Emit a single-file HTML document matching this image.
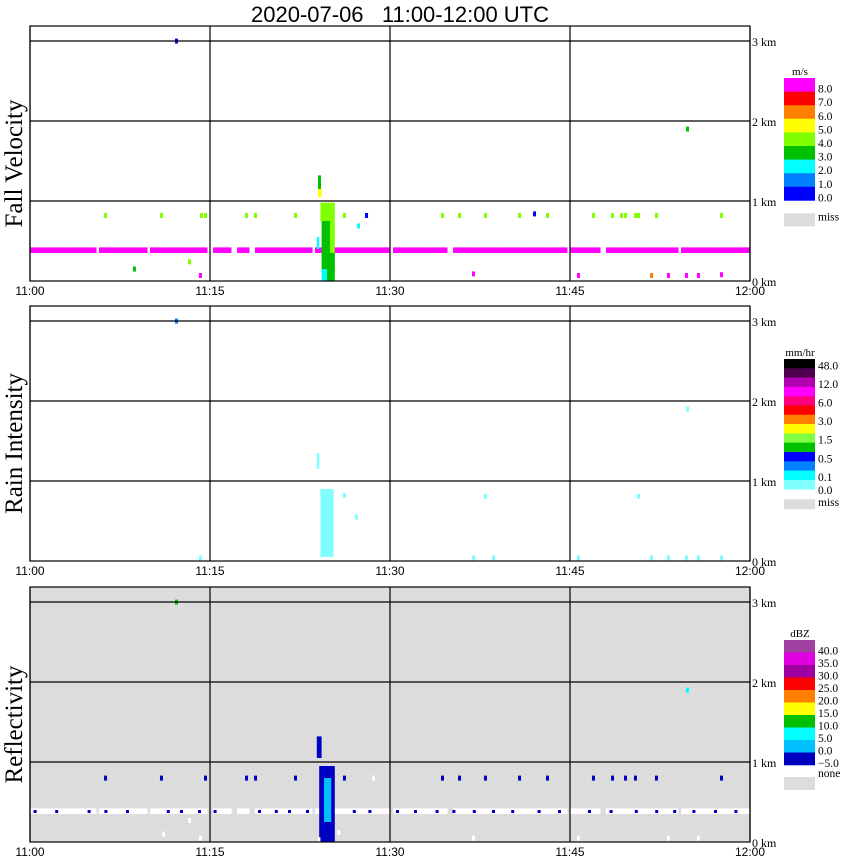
<!DOCTYPE html>
<html><head><meta charset="utf-8"><style>
body{margin:0;background:#fff;}
svg{display:block;font-family:"Liberation Sans",sans-serif;}
.serif{font-family:"Liberation Serif",serif;}
</style></head><body>
<svg id="chart" width="850" height="868" viewBox="0 0 850 868">
<text x="400" y="22" text-anchor="middle" font-size="22" style="white-space:pre">2020-07-06&#160;&#160;&#160;11:00-12:00 UTC</text>
<g id="layer"></g>
</svg>
<script>
// ---- data ----
const timeTicks = ["11:00","11:15","11:30","11:45","12:00"];
const tickMinutes = [0,15,30,45,60];
const kmTicks = [0,1,2,3];
const panelTitles = ["Fall Velocity","Rain Intensity","Reflectivity"];
// fall velocity scale (m/s)
const fvLabels = ["8.0","7.0","6.0","5.0","4.0","3.0","2.0","1.0","0.0"];
const fvColors = ["#ff00ff","#ff0000","#ff8000","#ffff00","#80ff00","#00c000","#00ffff","#0080ff","#0000ff"];
const fvThresh = [8,7,6,5,4,3,2,1,0];
// rain scale (mm/hr)
const riColors = ["#000000","#500050","#b000b0","#ff00ff","#ff0080","#ff0000","#ff8000","#ffff00","#80ff40","#00c000","#0000ff","#0080ff","#00ffff","#80ffff"];
const riThresh = [48,24,12,9,6,4,3,2,1.5,1,0.5,0.3,0.1,0];
const riLabels = [["48.0",0],["12.0",2],["6.0",4],["3.0",6],["1.5",8],["0.5",10],["0.1",12]];
// reflectivity scale (dBZ)
const dbColors = ["#a040a0","#e000e0","#a000a0","#ff0000","#ff8000","#ffff00","#00c000","#00ffff","#00c0ff","#0000c0"];
const dbThresh = [40,35,30,25,20,15,10,5,0,-5];
const dbLabels = ["40.0","35.0","30.0","25.0","20.0","15.0","10.0","5.0","0.0","\u22125.0"];
// scattered gates [minute, km, value]
const fvGates = [[6.17,0.8,4.5],[10.83,0.8,4.5],[14.17,0.8,4.5],[14.5,0.8,4.5],[17.92,0.8,4.5],[18.67,0.8,4.5],[22,0.8,4.5],[26.08,0.8,4.5],[34.25,0.8,4.5],[35.67,0.8,4.5],[37.83,0.8,4.5],[40.67,0.8,4.5],[43,0.8,4.5],[46.83,0.8,4.5],[48.42,0.8,4.5],[49.17,0.8,4.5],[49.5,0.8,4.5],[50.33,0.8,4.5],[50.58,0.8,4.5],[52.08,0.8,4.5],[57.5,0.8,4.5],[27.92,0.8,0.5],[41.92,0.82,0.5],[8.58,0.13,3.5],[13.17,0.22,4.5],[12.08,2.98,0.5],[54.67,1.88,3.5],[14.08,0.05,8.5],[36.83,0.07,8.5],[45.58,0.05,8.5],[53.08,0.05,8.5],[54.58,0.05,8.5],[55.58,0.05,8.5],[57.5,0.06,8.5],[51.67,0.05,6.5],[27.25,0.67,2.5]];
// column segments [t0, t1, h0, h1, value]
const fvCols = [[24.0,24.25,1.1,1.32,3.5],[24.0,24.3,1.05,1.15,5.5],[24.2,25.4,0.75,0.98,4.5],[24.3,25.0,0.1,0.75,3.5],[25.0,25.4,0.1,0.75,4.5],[24.6,25.4,0.0,0.35,3.5],[24.3,24.75,0.0,0.15,2.5],[23.9,24.1,0.4,0.55,2.5]];
const fvBandGaps = [5.5,9.75,14.83,16.92,18.42,23.5,30.0,34.83,44.75,47.6,54.0];
const riGates = [[12.08,2.98,0.4],[54.67,1.88,0.05],[26.08,0.8,0.05],[27.08,0.53,0.05],[37.83,0.79,0.05],[50.58,0.79,0.05],[14.08,0.02,0.05],[36.83,0.02,0.05],[38.5,0.02,0.05],[45.58,0.02,0.05],[51.67,0.02,0.05],[53.08,0.02,0.05],[54.58,0.02,0.05],[55.58,0.02,0.05],[57.5,0.02,0.05]];
const riCols = [[24.2,25.3,0.05,0.9,0.05],[23.9,24.1,1.15,1.35,0.05]];
const dbGates = [[6.17,0.78,-3],[10.83,0.78,-3],[14.5,0.78,-3],[17.92,0.78,-3],[18.67,0.78,-3],[22,0.78,-3],[26.08,0.78,-3],[34.25,0.78,-3],[35.67,0.78,-3],[37.83,0.78,-3],[40.67,0.78,-3],[43,0.78,-3],[46.83,0.78,-3],[48.42,0.78,-3],[49.5,0.78,-3],[50.33,0.78,-3],[52.08,0.78,-3],[57.5,0.78,-3],[12.08,2.98,12],[54.67,1.88,7],[28.5,0.78,-99],[13.17,0.25,-99],[11.0,0.08,-99],[14.08,0.03,-99],[36.83,0.03,-99],[45.58,0.03,-99],[53.08,0.03,-99],[55.58,0.03,-99],[25.6,0.1,-99]];
const dbCols = [[24.1,25.4,0.0,0.95,-3],[24.5,25.1,0.25,0.8,2.5],[23.9,24.3,1.05,1.32,-3],[24.0,24.2,0.0,0.06,-99]];
const dbBandDots = [0.3,2.1,4.8,6.2,8.0,11.4,12.5,14.0,15.3,19.0,20.4,21.5,23.0,26.9,28.2,30.5,32.0,33.8,35.2,36.9,38.5,40.1,42.3,44.0,46.5,48.3,50.4,52.1,53.6,55.2,57.0,58.7];

// ---- scales ----
const X0=30, X1=750, PXMIN=(X1-X0)/60, PXKM=80;
const panels=[{zero:281,bg:"#ffffff"},{zero:561,bg:"#ffffff"},{zero:842,bg:"#dcdcdc"}];
const xs=t=>X0+t*PXMIN;
const ys=(p,h)=>panels[p].zero-h*PXKM;
function colorFor(p,v){
  if(p===2 && v<=-99) return "#ffffff";
  const th=p===0?fvThresh:p===1?riThresh:dbThresh;
  const cs=p===0?fvColors:p===1?riColors:dbColors;
  for(let i=0;i<th.length;i++) if(v>=th[i]) return cs[i];
  return cs[cs.length-1];
}
const NS="http://www.w3.org/2000/svg";
const layer=document.getElementById("layer");
function mk(tag,attrs,parent){const e=document.createElementNS(NS,tag);for(const k in attrs)e.setAttribute(k,attrs[k]);(parent||layer).appendChild(e);return e;}

panels.forEach((P,p)=>{
  const g=mk("g",{});
  
  
  const top=P.zero-3*PXKM-15;
  const bg=mk("rect",{x:X0,y:top,width:X1-X0,height:P.zero-top,fill:P.bg},g);
  
  
  const dg=mk("g",{},g);
  
  
  if(p===0||p===2){
    for(let t=0;t<60;t+=0.25){
      if(fvBandGaps.some(gp=>Math.abs(gp-t)<0.2)) continue;
      const r=mk("rect",{x:xs(t),y:ys(p,0.42),width:PXMIN*0.25+0.5,height:0.07*PXKM,fill:p===0?colorFor(0,8.5):"#ffffff"},dg);
      
      
    }
  }
  if(p===2){
    dbBandDots.forEach(t=>{
      const r=mk("rect",{x:xs(t),y:ys(2,0.4),width:3,height:3,fill:colorFor(2,-3)},dg);
      
      
    });
  }
  const cols=p===0?fvCols:p===1?riCols:dbCols;
  cols.forEach(c=>{
    const r=mk("rect",{x:xs(c[0]),y:ys(p,c[3]),width:xs(c[1])-xs(c[0]),height:(c[3]-c[2])*PXKM,fill:colorFor(p,c[4])},dg);
    
    
  });
  const gates=p===0?fvGates:p===1?riGates:dbGates;
  gates.forEach(d=>{
    const r=mk("rect",{x:xs(d[0]),y:ys(p,d[1])-4,width:3,height:5,fill:colorFor(p,d[2])},dg);
    
    
  });
  kmTicks.forEach(k=>{
    if(k>0){const l=mk("line",{x1:X0,x2:X1,y1:ys(p,k),y2:ys(p,k),stroke:"#000","stroke-width":1.2},g);
      
      }
    const t=mk("text",{x:752,y:ys(p,k)+5,"font-size":12,class:"serif"},g);
    t.textContent=k+" km";
    
    
  });
  tickMinutes.forEach((m,i)=>{
    const l=mk("line",{x1:xs(m),x2:xs(m),y1:top,y2:P.zero,stroke:"#000","stroke-width":1.2},g);
    
    
    const t=mk("text",{x:xs(m),y:P.zero+14,"font-size":12,"text-anchor":"middle"},g);
    t.textContent=timeTicks[i];
    
    
  });
  const fr=mk("rect",{x:X0,y:top,width:X1-X0,height:P.zero-top,fill:"none",stroke:"#000","stroke-width":1.2},g);
  
  
  const cy=(top+P.zero)/2+10;
  const tt=mk("text",{x:0,y:0,"font-size":25,"text-anchor":"middle",class:"serif",transform:`translate(22,${cy}) rotate(-90)`},g);
  tt.textContent=panelTitles[p];
  
  
  const lg=mk("g",{},g);
  
  
  let cs,ly0,bh,unit,missLbl;
  if(p===0){cs=fvColors;ly0=78;bh=13.6;unit="m/s";missLbl="miss";}
  else if(p===1){cs=riColors;ly0=359;bh=9.3;unit="mm/hr";missLbl="miss";}
  else{cs=dbColors;ly0=640;bh=12.5;unit="dBZ";missLbl="none";}
  const un=mk("text",{x:800,y:ly0-3,"font-size":11,"text-anchor":"middle",class:"serif"},lg);
  un.textContent=unit;
  
  
  cs.forEach((c,i)=>{
    const r=mk("rect",{x:784,y:ly0+i*bh,width:31,height:bh+0.3,fill:c},lg);
    
    
  });
  const bottom=ly0+cs.length*bh;
  let labs;
  if(p===0) labs=fvLabels.map((s,i)=>[s,ly0+(i+1)*bh]);
  else if(p===1){labs=riLabels.map(a=>[a[0],ly0+(a[1]+1)*bh]);labs.push(["0.0",bottom+4]);}
  else labs=dbLabels.map((s,i)=>[s,ly0+(i+1)*bh+1]);
  labs.forEach(a=>{
    const t=mk("text",{x:818,y:a[1]+1,"font-size":11.5,class:"serif"},lg);
    t.textContent=a[0];
    
    
  });
  const my=bottom+(p===1?10:p===2?12:13);
  const mr=mk("rect",{x:784,y:my,width:31,height:p===1?10:13,fill:"#dcdcdc"},lg);
  
  
  const mt=mk("text",{x:818,y:my+(p===2?0:7),"font-size":11.5,class:"serif"},lg);
  mt.textContent=missLbl;
  
  
});
</script>
</body></html>
